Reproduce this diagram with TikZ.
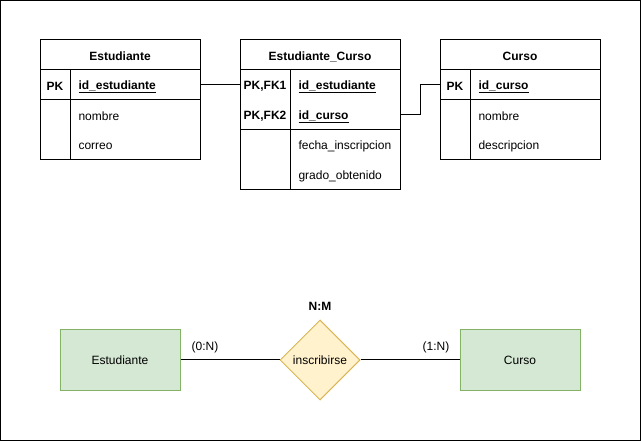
\documentclass[tikz,border=0pt]{standalone}
\usepackage{fontspec}
\setmainfont{Liberation Sans}
\usetikzlibrary{shapes.geometric}
\definecolor{entfill}{HTML}{D5E8D4}
\definecolor{entdraw}{HTML}{82B366}
\definecolor{relfill}{HTML}{FFF2CC}
\definecolor{reldraw}{HTML}{D6B656}
\tikzset{
  tbl/.style={draw=black, line width=1pt},
  hdr/.style={font=\fontsize{12}{14}\selectfont\bfseries, anchor=center, yshift=-1.5pt},
  keytxt/.style={font=\fontsize{12}{14}\selectfont\bfseries, anchor=center, yshift=-1.5pt},
  fld/.style={font=\fontsize{12}{14}\selectfont, anchor=west, yshift=-1.5pt},
  conn/.style={draw=black, line width=1pt},
  ent/.style={draw=entdraw, fill=entfill, line width=1pt, minimum width=120pt, minimum height=60pt, font=\fontsize{12}{14}\selectfont, inner sep=0pt},
  rel/.style={diamond, draw=reldraw, fill=relfill, line width=1pt, minimum width=80pt, minimum height=80pt, inner sep=0pt, font=\fontsize{12}{14}\selectfont, aspect=1},
  card/.style={font=\fontsize{12}{14}\selectfont, yshift=-1pt},
}
\begin{document}
\begin{tikzpicture}[x=1pt,y=-1pt]
\useasboundingbox (0,0) rectangle (641,441);
\draw[line width=1pt] (0.5,0.5) rectangle (640.5,440.5);

% Estudiante table
\draw[tbl] (40,40) rectangle (200,160);
\draw[tbl] (40,70) -- (200,70);
\draw[tbl] (40,100) -- (200,100);
\draw[tbl] (70,70) -- (70,160);
\node[hdr] (e_h) at (120,55) {Estudiante};
\node[keytxt] (e_pk) at (55,85) {PK};
\node[fld] (e_id) at (75,85) {\underline{\bfseries id\_estudiante}};
\node[fld] (e_nom) at (75,115) {nombre};
\node[fld] (e_cor) at (75,145) {correo};
\coordinate (e_out) at (200,85);

% Estudiante_Curso table
\draw[tbl] (240,40) rectangle (400,190);
\draw[tbl] (240,70) -- (400,70);
\draw[tbl] (240,130) -- (400,130);
\draw[tbl] (290,70) -- (290,190);
\node[hdr] (ec_h) at (320,55) {Estudiante\_Curso};
\node[keytxt] (ec_k1) at (265,85) {PK,FK1};
\node[keytxt] (ec_k2) at (265,115) {PK,FK2};
\node[fld] (ec_id) at (295,85) {\underline{\bfseries id\_estudiante}};
\node[fld] (ec_cur) at (295,115) {\underline{\bfseries id\_curso}};
\node[fld] (ec_f) at (295,145) {fecha\_inscripcion};
\node[fld] (ec_g) at (295,175) {grado\_obtenido};
\coordinate (ec_in) at (240,85);
\coordinate (ec_out) at (400,115);

% Curso table
\draw[tbl] (440,40) rectangle (600,160);
\draw[tbl] (440,70) -- (600,70);
\draw[tbl] (440,100) -- (600,100);
\draw[tbl] (470,70) -- (470,160);
\node[hdr] (c_h) at (520,55) {Curso};
\node[keytxt] (c_pk) at (455,85) {PK};
\node[fld] (c_id) at (475,85) {\underline{\bfseries id\_curso}};
\node[fld] (c_nom) at (475,115) {nombre};
\node[fld] (c_des) at (475,145) {descripcion};
\coordinate (c_in) at (440,85);

\draw[conn] (e_out) -- (ec_in);
\draw[conn] (ec_out) -- (420,115) -- (420,85) -- (c_in);

% ER diagram
\node[ent] (est) at (120,360) {Estudiante};
\node[rel] (ins) at (320,360) {inscribirse};
\node[ent] (cur) at (520,360) {Curso};
\draw[conn] (est) -- (ins);
\draw[conn] (ins) -- (cur);
\node[card] (c1) at (205,346) {(0:N)};
\node[card] (c2) at (436,346) {(1:N)};
\node[hdr] (nm) at (320,305) {N:M};
\end{tikzpicture}
\end{document}
